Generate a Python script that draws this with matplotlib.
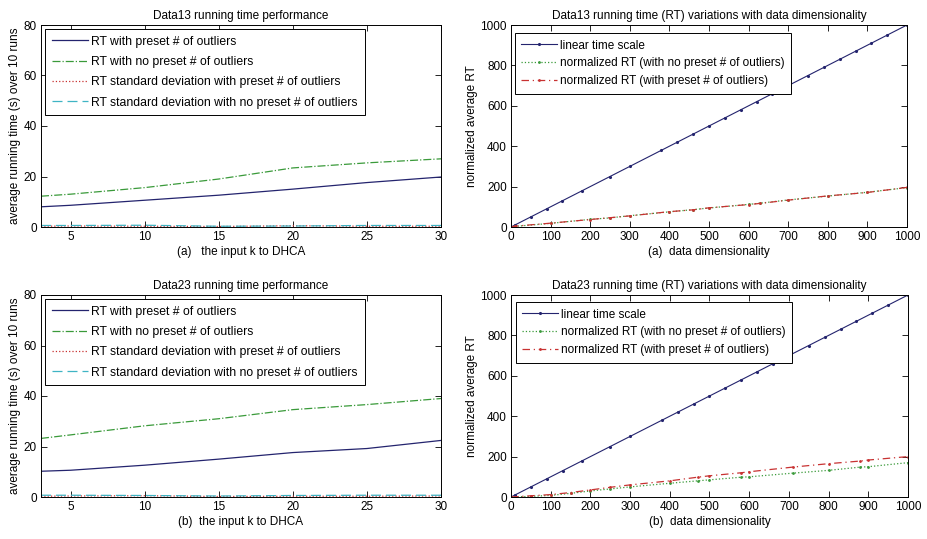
import matplotlib
matplotlib.use("Agg")
import matplotlib.pyplot as plt

plt.rcParams['font.family'] = ['Liberation Sans', 'DejaVu Sans']
plt.rcParams['font.size'] = 8

# colours (MATLAB-like after jpeg)
c_blue = '#24246e'
c_green = '#3a9a3a'
c_red = '#c83232'
c_cyan = '#3fb4c4'

# ---- left panels: running time vs k ----
k_vals = [3, 5, 10, 15, 20, 25, 30]
d13_preset = [8.0, 8.6, 10.6, 12.6, 15.0, 17.6, 19.8]
d13_nopreset = [12.2, 13.0, 15.6, 19.0, 23.4, 25.4, 27.0]
d13_std_preset = [0.3, 0.4, 0.3, 0.2, 0.5, 0.3, 0.3]
d13_std_nopreset = [0.6, 0.6, 0.7, 0.3, 0.4, 0.6, 0.6]

d23_preset = [10.2, 10.6, 12.6, 15.0, 17.6, 19.2, 22.4]
d23_nopreset = [23.2, 24.6, 28.2, 31.0, 34.6, 36.6, 39.0]
d23_std_preset = [0.3, 0.4, 0.5, 0.2, 0.3, 0.3, 0.4]
d23_std_nopreset = [0.7, 0.7, 0.6, 0.4, 0.6, 0.7, 0.7]

# ---- right panels: RT vs dimensionality ----
dim_lin = [0, 10, 50, 90, 130, 180, 250, 300, 380, 420, 460, 500, 540,
           580, 620, 660, 700, 750, 790, 830, 870, 910, 950, 1000]
lin_scale = dim_lin

dim13 = [0, 10, 100, 200, 250, 300, 400, 460, 500, 600, 630, 700, 800, 900, 1000]
d13_rt_nopreset = [0, 3, 18, 38, 45, 56, 75, 86, 94, 112, 118, 134, 153, 172, 195]
d13_rt_preset = [0, 4, 19, 37, 46, 55, 76, 85, 95, 111, 117, 133, 154, 171, 196]

dim23 = [0, 50, 100, 150, 200, 250, 300, 400, 470, 500, 580, 600, 710, 800, 880, 900, 1000]
d23_rt_preset = [0, 6, 12, 22, 35, 48, 60, 80, 98, 105, 120, 125, 148, 165, 178, 183, 200]
d23_rt_nopreset = [0, 3, 8, 18, 30, 40, 50, 68, 80, 85, 98, 100, 118, 132, 148, 150, 170]

fig = plt.figure(figsize=(9.28, 5.39), dpi=100)
W, H = 928.0, 539.0


def make_axes(x0, x1, y0, y1):
    ax = fig.add_axes([x0 / W, 1 - y1 / H, (x1 - x0) / W, (y1 - y0) / H])
    ax.tick_params(direction='in', top=True, right=True, length=4, width=0.6,
                   labelsize=8.5, pad=3)
    for s in ax.spines.values():
        s.set_linewidth(0.7)
    return ax


def style_legend(ax, anchor, spacing, fsize):
    leg = ax.legend(loc='upper left', bbox_to_anchor=anchor, fontsize=fsize,
                    handlelength=3.0, labelspacing=spacing, borderaxespad=0,
                    fancybox=False, framealpha=1, edgecolor='black',
                    borderpad=0.55, handletextpad=0.25)
    leg.get_frame().set_linewidth(0.7)


def left_panel(ax, pre, nopre, spre, snopre, title, xlabel):
    ax.plot(k_vals, pre, color=c_blue, lw=0.9, ls='-', label='RT with preset # of outliers')
    ax.plot(k_vals, nopre, color=c_green, lw=0.9, ls='-.', label='RT with no preset # of outliers')
    ax.plot(k_vals, spre, color=c_red, lw=0.9, ls=':', label='RT standard deviation with preset # of outliers')
    ax.plot(k_vals, snopre, color=c_cyan, lw=0.9, ls=(0, (8, 4)), label='RT standard deviation with no preset # of outliers')
    ax.set_xlim(3, 30)
    ax.set_ylim(0, 80)
    ax.set_xticks([5, 10, 15, 20, 25, 30])
    ax.set_yticks([0, 20, 40, 60, 80])
    ax.set_title(title, fontsize=8.5, pad=4)
    ax.set_xlabel(xlabel, fontsize=8.5, labelpad=2)
    ax.set_ylabel('average running time (s) over 10 runs', fontsize=8.5, labelpad=2)
    style_legend(ax, (0.01, 0.98), 0.68, 8.8)


def right_panel(ax, dims, first, second, first_lab, second_lab, first_col, second_col,
                first_ls, second_ls, title, xlabel, anchor):
    ax.plot(dim_lin, lin_scale, color=c_blue, lw=0.8, ls='-', marker='.', ms=2.5,
            label='linear time scale')
    ax.plot(dims, first, color=first_col, lw=0.9, ls=first_ls, marker='.', ms=2,
            label=first_lab)
    ax.plot(dims, second, color=second_col, lw=0.9, ls=second_ls, marker='.', ms=2,
            label=second_lab)
    ax.set_xlim(0, 1000)
    ax.set_ylim(0, 1000)
    ax.set_xticks(range(0, 1001, 100))
    ax.set_yticks(range(0, 1001, 200))
    ax.set_title(title, fontsize=8.5, pad=4)
    ax.set_xlabel(xlabel, fontsize=8.5, labelpad=2)
    ax.set_ylabel('normalized average RT', fontsize=8.5, labelpad=2)
    style_legend(ax, anchor, 0.5, 8.5)


ax1 = make_axes(41, 441, 25, 227)
left_panel(ax1, d13_preset, d13_nopreset, d13_std_preset, d13_std_nopreset,
           'Data13 running time performance', '(a)   the input k to DHCA')

ax3 = make_axes(41, 441, 295, 497)
left_panel(ax3, d23_preset, d23_nopreset, d23_std_preset, d23_std_nopreset,
           'Data23 running time performance', '(b)  the input k to DHCA')

ax2 = make_axes(511, 907, 25, 227)
right_panel(ax2, dim13, d13_rt_nopreset, d13_rt_preset,
            'normalized RT (with no preset # of outliers)',
            'normalized RT (with preset # of outliers)',
            c_green, c_red, ':', (0, (6, 3, 1, 3)),
            'Data13 running time (RT) variations with data dimensionality',
            '(a)  data dimensionality', (0.01, 0.96))

ax4 = make_axes(511, 908, 295, 497)
right_panel(ax4, dim23, d23_rt_nopreset, d23_rt_preset,
            'normalized RT (with no preset # of outliers)',
            'normalized RT (with preset # of outliers)',
            c_green, c_red, ':', (0, (6, 3, 1, 3)),
            'Data23 running time (RT) variations with data dimensionality',
            '(b)  data dimensionality', (0.012, 0.965))

fig.savefig('out.png', dpi=100)
